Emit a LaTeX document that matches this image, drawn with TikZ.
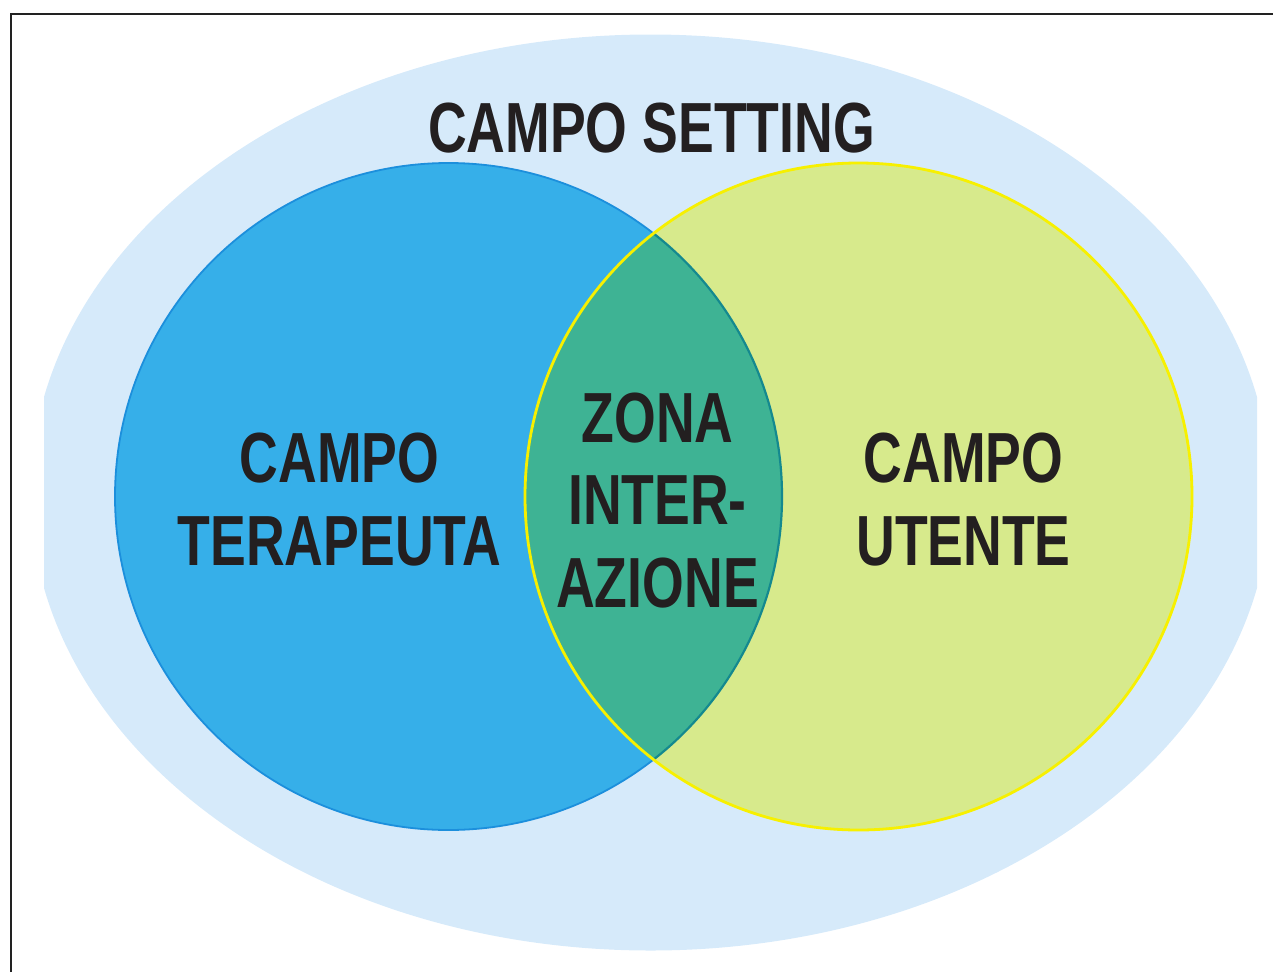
\documentclass[tikz,border=0pt]{standalone}
\usepackage{fontspec}
\setmainfont{Liberation Sans}[FakeStretch=0.755]
\definecolor{settingbg}{HTML}{D6EAFA}
\definecolor{terafill}{HTML}{36AFE9}
\definecolor{teraline}{HTML}{1C8FDC}
\definecolor{utefill}{HTML}{D7EA8C}
\definecolor{uteline}{HTML}{F7F000}
\definecolor{lensfill}{HTML}{3EB394}
\definecolor{lensline}{HTML}{14898F}
\definecolor{inkcol}{HTML}{231F20}
\definecolor{framecol}{HTML}{222222}
\tikzset{
  lbl/.style={font=\fontsize{71}{82.5}\selectfont\bfseries, text=inkcol, inner sep=0pt, align=center, anchor=base},
}
\begin{document}
\begin{tikzpicture}[x=1pt,y=-1pt]
\useasboundingbox (0,0) rectangle (1273,972);
% frame
\draw[framecol, line width=2pt] (11,972) -- (11,14) -- (1273,14);
% outer setting field
\begin{scope}
  \clip (44,0) rectangle (1257,972);
  \fill[settingbg] (650.5,492.5) ellipse [x radius=620, y radius=458];
\end{scope}
% therapist field
\fill[terafill] (448.5,496.5) circle [radius=333.5];
\draw[teraline, line width=1.8pt] (448.5,496.5) circle [radius=333.5];
% user field
\fill[utefill] (858.5,496.5) circle [radius=333.5];
% lens
\begin{scope}
  \clip (858.5,496.5) circle [radius=333.5];
  \fill[lensfill] (448.5,496.5) circle [radius=333.5];
  \draw[lensline, line width=2.2pt] (448.5,496.5) circle [radius=333.5];
\end{scope}
\draw[uteline, line width=2.8pt] (858.5,496.5) circle [radius=333.5];
% labels (anchor=base is the last line's baseline)
\node[lbl] (setting) at (651.5,152) {CAMPO SETTING};
\node[lbl] (terapeuta) at (339.5,565) {CAMPO\\TERAPEUTA};
\node[lbl] (zona) at (657.5,607) {ZONA\\INTER-\\AZIONE};
\node[lbl] (utente) at (963.5,565) {CAMPO\\UTENTE};
\end{tikzpicture}
\end{document}
